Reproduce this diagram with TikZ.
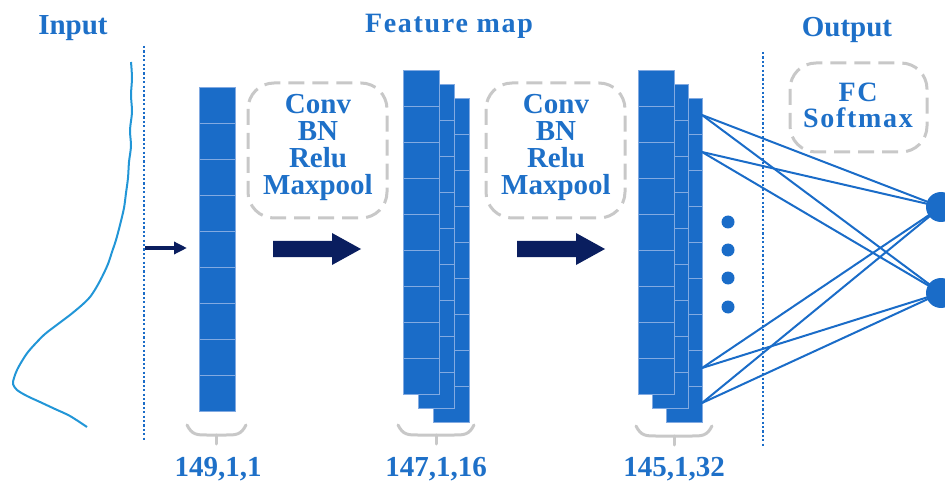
\documentclass[tikz,border=0pt]{standalone}
\usepackage{fontspec}
\setmainfont{Liberation Serif}
\usetikzlibrary{arrows.meta}

\definecolor{netblue}{RGB}{26,108,200}
\definecolor{txtblue}{RGB}{30,112,200}
\definecolor{gridline}{RGB}{130,170,225}
\definecolor{curveblue}{RGB}{34,150,215}
\definecolor{navy}{RGB}{10,30,95}
\definecolor{softgray}{RGB}{200,200,200}

% one column of 9 cells, left edge #1, top edge #2
\newcommand{\cellcolumn}[2]{%
  \fill[netblue] (#1,#2) rectangle ++(36,324);
  \foreach \k in {1,...,8} \draw[cellsep] (#1,#2+36*\k) -- ++(36,0);
  \draw[cellsep] (#1,#2) rectangle ++(36,324);
}
% gray under-brace from #1 to #2, tick at #3, top at #4
\newcommand{\graybrace}[4]{%
  \draw[bracegray] (#1,#4) .. controls (#1+5,#4+10) and (#1+10,#4+10) .. (#1+20,#4+10)
    -- (#2-20,#4+10) .. controls (#2-10,#4+10) and (#2-5,#4+10) .. (#2,#4);
  \draw[bracegray] (#3,#4+10) -- (#3,#4+19);
}
% thick block arrow with tip at (#1,#2)
\newcommand{\blockarrow}[2]{%
  \fill[navy] (#1-88,#2-8) -- (#1-29,#2-8) -- (#1-29,#2-16) -- (#1,#2)
    -- (#1-29,#2+16) -- (#1-29,#2+8) -- (#1-88,#2+8) -- cycle;
}

\tikzset{
  cellsep/.style={gridline, line width=0.9pt},
  bracegray/.style={softgray, line width=3pt, line cap=round},
  dashbox/.style={softgray, line width=3pt, rounded corners=26pt, dash pattern=on 16pt off 8pt},
  sepline/.style={netblue, line width=2pt, dash pattern=on 2.2pt off 2.2pt},
  title/.style={txtblue, font=\fontsize{29}{30}\selectfont\bfseries, anchor=base, inner sep=0pt},
  boxtext/.style={txtblue, font=\fontsize{29}{27}\selectfont\bfseries, align=center, inner sep=0pt},
  link/.style={netblue, line width=2pt},
  outnode/.style={circle, fill=netblue, minimum size=30pt, inner sep=0pt},
  dotnode/.style={circle, fill=netblue, minimum size=13pt, inner sep=0pt},
}

\begin{document}
\begin{tikzpicture}[x=1pt, y=-1pt]
\useasboundingbox (0,0) rectangle (945,481);
\clip (0,0) rectangle (945,481);

% titles
\node[title] (tin) at (73,35) {Input};
\node[title, font=\fontsize{28}{30}\selectfont\bfseries\addfontfeatures{LetterSpace=6}] (tfm) at (449,33) {Feature map};
\node[title] (tout) at (847,37) {Output};

% separators
\draw[sepline] (144,46) -- (144,440);
\draw[sepline] (763,52) -- (763,447);

% input signal
\draw[curveblue, line width=2pt, line join=round] plot[smooth, tension=0.5] coordinates {
  (131,62) (132,78) (131,95) (132,112) (130,130) (131,146) (129,162) (128,178)
  (126,193) (124,208) (120,225) (116,240) (112,252) (108,264) (102,277) (96,288)
  (90,297) (82,305) (70,315) (58,324) (45,334) (36,343) (28,352) (22,361) (17,370)
  (14,378) (13,384) (17,390) (27,396) (40,402) (55,409) (70,416) (87,427)};

% small arrow into the input column
\draw[navy, line width=4pt, -{Triangle[length=13pt,width=12pt]}] (145,248) -- (187,248);

% input column
\cellcolumn{199}{87}
\graybrace{187}{246}{216}{425}
\node[title] (l1) at (218,476) {149,1,1};

% first conv block
\draw[dashbox] (248,83) rectangle (387,218);
\node[boxtext] (b1) at (318,147) {Conv\\BN\\Relu\\Maxpool};
\blockarrow{361}{249}

% feature maps after first block
\cellcolumn{433}{98}
\cellcolumn{418}{84}
\cellcolumn{403}{70}
\graybrace{398}{474}{436}{425}
\node[title] (l2) at (436,476) {147,1,16};

% second conv block
\draw[dashbox] (486,83) rectangle (625,218);
\node[boxtext] (b2) at (556,147) {Conv\\BN\\Relu\\Maxpool};
\blockarrow{605}{249}

% feature maps after second block
\cellcolumn{666}{98}
\cellcolumn{652}{84}
\cellcolumn{638}{70}
\graybrace{636}{712}{674}{426}
\node[title] (l3) at (674,476) {145,1,32};

% ellipsis dots
\node[dotnode] (d1) at (728,222) {};
\node[dotnode] (d2) at (728,250) {};
\node[dotnode] (d3) at (728,278) {};
\node[dotnode] (d4) at (728,307) {};

% fully connected links
\coordinate (s1) at (702,115);
\coordinate (s2) at (702,152);
\coordinate (s3) at (702,368);
\coordinate (s4) at (702,403);
\coordinate (c1) at (941,207);
\coordinate (c2) at (941,293);
\foreach \s in {s1,s2,s3,s4} {
  \draw[link] (\s) -- (c1);
  \draw[link] (\s) -- (c2);
}
\node[outnode] (o1) at (c1) {};
\node[outnode] (o2) at (c2) {};

% output block
\draw[dashbox] (790,63) rectangle (927,152);
\node[boxtext, font=\fontsize{28}{26}\selectfont\bfseries\addfontfeatures{LetterSpace=6}] (b3) at (858,105) {FC\\Softmax};
\end{tikzpicture}
\end{document}
